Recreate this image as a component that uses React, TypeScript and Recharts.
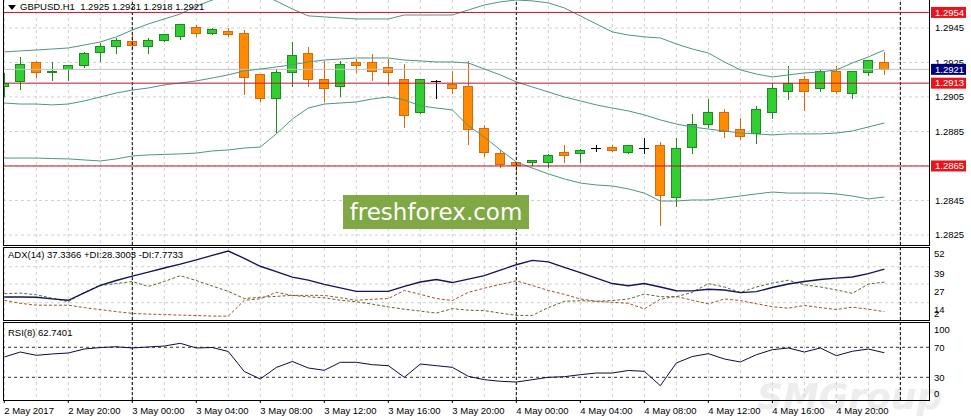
import React from 'react';
import { ComposedChart, Line, Bar, XAxis, YAxis, ReferenceLine, CartesianGrid } from 'recharts';

// ---------- data ----------
const open = [1.2911,1.2914,1.2925,1.2919,1.2921,1.2923,1.2931,1.2934,1.2937,1.2934,
1.2938,1.2940,1.2945,1.2942,1.2943,1.2942,1.2918,1.2904,1.2919,1.2930,
1.2915,1.2911,1.2925,1.2925,1.2922,1.2915,1.2896,1.2914,1.2912,1.2911,
1.2887,1.2872,1.2867,1.2867,1.2867,1.2873,1.2872,1.2875,1.2876,1.2873,
1.2875,1.2877,1.2847,1.2876,1.2889,1.2896,1.2886,1.2884,1.2896,1.2908,
1.2915,1.2910,1.2920,1.2907,1.2919,1.2925];
const high = [1.2919,1.2928,1.2926,1.2925,1.2923,1.2931,1.2936,1.2939,1.2941,1.2939,
1.2941,1.2947,1.2947,1.2945,1.2945,1.2944,1.2918,1.2921,1.2937,1.2934,
1.2926,1.2926,1.2927,1.2930,1.2927,1.2924,1.2915,1.2915,1.2920,1.2926,
1.2889,1.2874,1.2867,1.2868,1.2872,1.2877,1.2875,1.2877,1.2877,1.2877,
1.2881,1.2879,1.2881,1.2895,1.2904,1.2898,1.2893,1.2900,1.2913,1.2923,
1.2917,1.2921,1.2923,1.2920,1.2926,1.2931];
const low = [1.2905,1.2909,1.2916,1.2914,1.2914,1.2922,1.2925,1.2930,1.2933,1.2930,
1.2937,1.2938,1.2940,1.2941,1.2940,1.2906,1.2902,1.2884,1.2911,1.2911,
1.2902,1.2905,1.2919,1.2914,1.2912,1.2887,1.2895,1.2904,1.2907,1.2877,
1.2870,1.2864,1.2861,1.2865,1.2864,1.2867,1.2867,1.2873,1.2873,1.2872,
1.2872,1.2830,1.2841,1.2872,1.2887,1.2881,1.2880,1.2878,1.2892,1.2903,
1.2897,1.2908,1.2907,1.2904,1.2917,1.2918];
const close = [1.2913,1.2924,1.2919,1.2920,1.2923,1.2930,1.2934,1.2938,1.2935,1.2938,
1.2941,1.2947,1.2942,1.2944,1.2941,1.2916,1.2904,1.2919,1.2929,1.2915,
1.2910,1.2924,1.2923,1.2920,1.2919,1.2894,1.2915,1.2914,1.2910,1.2886,
1.2873,1.2866,1.2865,1.2868,1.2871,1.2871,1.2874,1.2875,1.2874,1.2877,
1.2875,1.2848,1.2875,1.2889,1.2896,1.2885,1.2882,1.2898,1.2910,1.2913,
1.2908,1.2920,1.2908,1.2920,1.2926,1.2921];

const bbUpper = [1.29311,1.29317,1.29322,1.29328,1.29334,1.29351,1.29369,1.29398,1.29438,1.29473,
1.29502,1.29531,1.29577,1.29612,1.29641,1.29660,1.29650,1.29606,1.29560,1.29520,
1.29514,1.29508,1.29502,1.29502,1.29502,1.29525,1.29525,1.29525,1.29525,1.29554,
1.29583,1.29601,1.29612,1.29607,1.29595,1.29566,1.29520,1.29473,1.29427,1.29409,
1.29398,1.29392,1.29357,1.29328,1.29305,1.29253,1.29207,1.29183,1.29166,1.29178,
1.29189,1.29195,1.29207,1.29247,1.29282,1.29322];
const bbMiddle = [1.29015,1.29009,1.29009,1.29004,1.29009,1.29027,1.29050,1.29073,1.29090,1.29102,
1.29120,1.29131,1.29143,1.29160,1.29178,1.29201,1.29212,1.29224,1.29236,1.29253,
1.29264,1.29270,1.29276,1.29276,1.29276,1.29264,1.29259,1.29253,1.29253,1.29247,
1.29212,1.29178,1.29137,1.29108,1.29079,1.29050,1.29027,1.29004,1.28986,1.28969,
1.28946,1.28917,1.28893,1.28876,1.28864,1.28853,1.28841,1.28836,1.28830,1.28836,
1.28836,1.28836,1.28841,1.28853,1.28876,1.28899];
const bbLower = [1.28696,1.28696,1.28696,1.28693,1.28691,1.28685,1.28679,1.28691,1.28708,1.28714,
1.28717,1.28720,1.28725,1.28737,1.28743,1.28754,1.28760,1.28836,1.28922,1.28986,
1.29009,1.29015,1.29021,1.29038,1.29050,1.29033,1.28998,1.28986,1.28975,1.28882,
1.28818,1.28743,1.28673,1.28638,1.28604,1.28575,1.28551,1.28540,1.28534,1.28517,
1.28493,1.28447,1.28447,1.28453,1.28453,1.28464,1.28476,1.28488,1.28499,1.28493,
1.28493,1.28493,1.28488,1.28476,1.28459,1.28470];

const adx = [18.0,18.0,17.8,16.7,15.7,20.8,26.0,29.4,32.5,35.2,
38.1,40.8,43.8,46.9,49.9,44.8,39.3,35.6,31.8,29.7,
26.7,24.3,21.9,21.9,21.9,25.3,28.4,30.1,28.0,30.4,
32.8,36.6,40.4,43.4,42.4,38.6,34.9,31.1,27.3,25.8,
27.3,24.9,22.3,22.2,23.4,22.8,21.0,21.7,24.6,27.0,
28.7,30.1,31.1,31.9,34.2,37.3];
const plusDI = [20.3,20.7,19.5,17.1,14.7,21.2,26.0,27.3,28.7,25.3,
28.7,32.8,29.4,25.6,21.9,16.9,17.8,18.4,19.1,18.1,
17.4,15.7,14.7,13.0,11.1,9.5,8.2,6.8,9.9,8.8,
8.5,6.8,5.2,5.2,10.6,15.0,15.4,15.0,15.5,16.6,
20.0,18.2,18.2,21.2,27.3,24.9,21.2,24.9,27.7,29.6,
26.5,24.9,22.9,20.5,27.0,28.3];
const minusDI = [15.7,13.6,12.3,12.3,12.3,10.6,9.2,7.8,6.6,6.1,
5.8,5.4,5.1,4.7,4.7,15.7,16.7,21.2,19.1,19.1,
19.1,17.4,15.7,16.4,16.9,22.5,19.8,16.9,15.5,21.2,
24.1,26.7,29.2,26.0,22.5,19.8,16.6,15.0,14.3,13.6,
9.7,16.4,18.4,15.7,13.2,16.6,15.5,13.3,11.2,10.2,
12.1,10.6,9.3,10.9,9.5,7.8];
const rsi = [57.1,63.7,59.3,61.1,62.4,67.7,69.7,70.7,69.1,70.4,
71.7,75.3,69.1,69.7,64.4,37.7,27.7,43.1,51.1,42.4,
39.3,50.0,50.0,46.8,45.5,30.0,47.7,45.5,43.3,31.3,
26.8,24.7,23.7,26.8,30.0,30.8,33.5,35.7,35.7,39.1,
38.0,18.8,49.1,57.7,61.5,54.4,50.4,60.1,66.8,69.1,
63.7,69.1,58.8,64.7,67.7,62.7];

const tickIdx = [0,4,8,12,16,20,24,28,32,36,40,44,48,52];
const tickLabels = ['2 May 2017','2 May 20:00','3 May 00:00','3 May 04:00','3 May 08:00','3 May 12:00','3 May 16:00','3 May 20:00','4 May 00:00','4 May 04:00','4 May 08:00','4 May 12:00','4 May 16:00','4 May 20:00'];
const daySeparators = [8, 32, 56];
const gridIdx = [0,2,4,6,8,10,12,14,16,18,20,22,24,26,28,30,32,34,36,38,40,42,44,46,48,50,52,54,56];

const priceTicks = [1.2954, 1.2945, 1.2925, 1.2921, 1.2913, 1.2905, 1.2885, 1.2865, 1.2845, 1.2825];
const gridPrices = [1.2945, 1.2925, 1.2905, 1.2885, 1.2865, 1.2845, 1.2825];
const levelLines = [1.2954, 1.2913, 1.2865];
const lastBid = 1.2921;
const adxTicks = [52, 39, 27, 14, 2];
const adxGrid = [39, 27, 14];
const rsiTicks = [100, 70, 30, 0];
const rsiLevels = [70, 30];

const rows = open.map((o, i) => ({
  i, open: o, high: high[i], low: low[i], close: close[i],
  upper: bbUpper[i], mid: bbMiddle[i], lower: bbLower[i],
  adx: adx[i], pdi: plusDI[i], mdi: minusDI[i], rsi: rsi[i],
}));

// ---------- styling ----------
const FONT = '"Liberation Sans", Arial, sans-serif';
const FS = 9.5;
const xDomain: [number, number] = [-0.08, 57.79];
const priceDomain: [number, number] = [1.28192, 1.29612];

const Candle = (props: any) => {
  const { x, y, width, height, payload } = props;
  if (!payload) return null;
  const { open: o, close: c, high: h, low: l } = payload;
  const cx = Math.round(x + width / 2);
  const k = height / (h - l);
  const yO = y + (h - o) * k;
  const yC = y + (h - c) * k;
  const bull = c > o;
  const bear = c < o;
  const fill = bull ? '#32cd32' : bear ? '#ff8c00' : '#000';
  const edge = bull ? '#1f8a1f' : bear ? '#d26a10' : '#000';
  const top = Math.min(yO, yC);
  const bh = Math.max(Math.abs(yO - yC), 1);
  return (
    <g shapeRendering="crispEdges">
      <line x1={cx} x2={cx} y1={y} y2={y + height} stroke={edge} strokeWidth={1} />
      {bull || bear ? (
        <rect x={cx - 4.5} y={top} width={9} height={bh} fill={fill} stroke={edge} strokeWidth={1} />
      ) : (
        <line x1={cx - 5} x2={cx + 5} y1={yO} y2={yO} stroke="#000" strokeWidth={1} />
      )}
    </g>
  );
};

const boxColor: Record<string, string> = { '1.2954': '#e8141b', '1.2913': '#e8141b', '1.2865': '#e8141b', '1.2921': '#00007a' };

const PriceTick = (props: any) => {
  const { x, y, payload } = props;
  const v = Number(payload.value).toFixed(4);
  const bg = boxColor[v];
  return (
    <g>
      {bg && <rect x={x - 4} y={y - 5.5} width={35} height={11} fill={bg} />}
      <text x={x} y={y} dy={3.3} fill={bg ? '#fff' : '#000'} fontFamily={FONT} fontSize={FS}>{v}</text>
    </g>
  );
};

const makeSideTick = (shift: Record<string, number>) => (props: any) => {
  const { x, y, payload } = props;
  const d = shift[String(payload.value)] ?? 0;
  return (
    <text x={x} y={y + d} dy={3.3} fill="#000" fontFamily={FONT} fontSize={FS}>{payload.value}</text>
  );
};
const AdxTick = makeSideTick({ '52': 6, '39': 7, '27': 8, '14': 6.5, '2': -6.5 });
const RsiTick = makeSideTick({ '100': 5, '0': -6 });

const TimeTick = (props: any) => {
  const { x, y, payload } = props;
  const k = tickIdx.indexOf(payload.value);
  return (
    <text x={x} y={y} dy={8} fill="#000" fontFamily={FONT} fontSize={FS} textAnchor="start">{tickLabels[k]}</text>
  );
};

const gridProps = { stroke: '#cfcfcf', strokeDasharray: '3 3' };

const sepLines = (id: string) =>
  daySeparators.map((d) => (
    <ReferenceLine key={id + d} x={d} stroke="#000" strokeDasharray="3 2" ifOverflow="extendDomain" />
  ));

export default function App() {
  return (
    <div style={{ position: 'absolute', left: 0, top: 0, width: 971, height: 419, background: '#fff', overflow: 'hidden' }}>
      {/* faint watermark */}
      <div style={{ position: 'absolute', left: 757, top: 376, fontFamily: '"DejaVu Sans", sans-serif', fontWeight: 'bold', fontStyle: 'italic', fontSize: 36, color: '#ededed', whiteSpace: 'pre' }}>SMGroup</div>

      {/* main price panel */}
      <div style={{ position: 'absolute', left: 0, top: 0 }}>
        <ComposedChart width={971} height={246} data={rows} margin={{ top: 0, right: 0, bottom: 1, left: 3 }}>
          <CartesianGrid horizontalValues={gridPrices} verticalValues={gridIdx} {...gridProps} />
          <XAxis dataKey="i" type="number" domain={xDomain} hide allowDataOverflow />
          <YAxis orientation="right" domain={priceDomain} allowDataOverflow ticks={priceTicks} interval={0}
            tick={<PriceTick />} tickLine={false} axisLine={false} tickSize={0} tickMargin={6} width={42} />
          {sepLines('m')}
          <ReferenceLine y={lastBid} stroke="#c0c0c0" />
          <Bar dataKey={(d: any) => [d.low, d.high]} shape={<Candle />} barSize={10} isAnimationActive={false} />
          <Line dataKey="upper" stroke="#4f9585" strokeWidth={1} dot={false} isAnimationActive={false} />
          <Line dataKey="mid" stroke="#4f9585" strokeWidth={1} dot={false} isAnimationActive={false} />
          <Line dataKey="lower" stroke="#4f9585" strokeWidth={1} dot={false} isAnimationActive={false} />
          {levelLines.map((p) => (
            <ReferenceLine key={p} y={p} stroke="#c0142a" strokeWidth={1} />
          ))}
        </ComposedChart>
      </div>

      {/* ADX panel */}
      <div style={{ position: 'absolute', left: 0, top: 248 }}>
        <ComposedChart width={971} height={72} data={rows} margin={{ top: 0, right: 0, bottom: 0, left: 3 }}>
          <CartesianGrid horizontalValues={adxGrid} verticalValues={gridIdx} {...gridProps} />
          <XAxis dataKey="i" type="number" domain={xDomain} hide allowDataOverflow />
          <YAxis orientation="right" domain={[2, 52]} allowDataOverflow ticks={adxTicks} interval={0}
            tick={<AdxTick />} tickLine={false} axisLine={false} tickSize={0} tickMargin={5} width={42} />
          {sepLines('a')}
          <Line dataKey="pdi" stroke="#556b2f" strokeDasharray="3 2" strokeWidth={1} dot={false} isAnimationActive={false} />
          <Line dataKey="mdi" stroke="#a0522d" strokeDasharray="3 2" strokeWidth={1} dot={false} isAnimationActive={false} />
          <Line dataKey="adx" stroke="#14145a" strokeWidth={1.4} dot={false} isAnimationActive={false} />
        </ComposedChart>
      </div>

      {/* RSI panel */}
      <div style={{ position: 'absolute', left: 0, top: 322 }}>
        <ComposedChart width={971} height={97} data={rows} margin={{ top: 0, right: 0, bottom: 0, left: 3 }}>
          <CartesianGrid horizontal={false} verticalValues={gridIdx} {...gridProps} />
          <XAxis dataKey="i" type="number" domain={xDomain} allowDataOverflow ticks={tickIdx} interval={0}
            tick={<TimeTick />} tickLine={{ stroke: '#000' }} tickSize={3} tickMargin={3} axisLine={false} height={19} />
          <YAxis orientation="right" domain={[-0.27, 103.73]} allowDataOverflow ticks={rsiTicks} interval={0}
            tick={<RsiTick />} tickLine={false} axisLine={false} tickSize={0} tickMargin={5} width={42} />
          {sepLines('r')}
          {rsiLevels.map((v) => (
            <ReferenceLine key={v} y={v} stroke="#333" strokeDasharray="3 3" />
          ))}
          <Line dataKey="rsi" stroke="#0c0c40" strokeWidth={1} dot={false} isAnimationActive={false} />
        </ComposedChart>
      </div>

      {/* panel frames */}
      <div style={{ position: 'absolute', left: 3, top: -1, width: 927, height: 247, border: '1px solid #000', boxSizing: 'border-box', pointerEvents: 'none' }} />
      <div style={{ position: 'absolute', left: 3, top: 247, width: 927, height: 74, border: '1px solid #000', boxSizing: 'border-box', pointerEvents: 'none' }} />
      <div style={{ position: 'absolute', left: 3, top: 322, width: 927, height: 79, border: '1px solid #000', boxSizing: 'border-box', pointerEvents: 'none' }} />

      {/* titles */}
      <div style={{ position: 'absolute', left: 8, top: 5, width: 0, height: 0, borderLeft: '4px solid transparent', borderRight: '4px solid transparent', borderTop: '5px solid #000' }} />
      <div style={{ position: 'absolute', left: 20, top: 1, fontFamily: FONT, fontSize: FS, lineHeight: '12px', color: '#000', whiteSpace: 'pre' }}>GBPUSD.H1  1.2925 1.2931 1.2918 1.2921</div>
      <div style={{ position: 'absolute', left: 8, top: 249, fontFamily: FONT, fontSize: FS, lineHeight: '12px', color: '#000', whiteSpace: 'pre' }}>ADX(14) 37.3366 +DI:28.3003 -DI:7.7733</div>
      <div style={{ position: 'absolute', left: 8, top: 327, fontFamily: FONT, fontSize: FS, lineHeight: '12px', color: '#000', whiteSpace: 'pre' }}>RSI(8) 62.7401</div>

      {/* site badge */}
      <div style={{ position: 'absolute', left: 343, top: 195, width: 186, height: 34, background: '#80a844', color: '#fff', fontFamily: '"DejaVu Sans", sans-serif', fontSize: 23, lineHeight: '34px', textAlign: 'center', whiteSpace: 'pre' }}>freshforex.com</div>
    </div>
  );
}
